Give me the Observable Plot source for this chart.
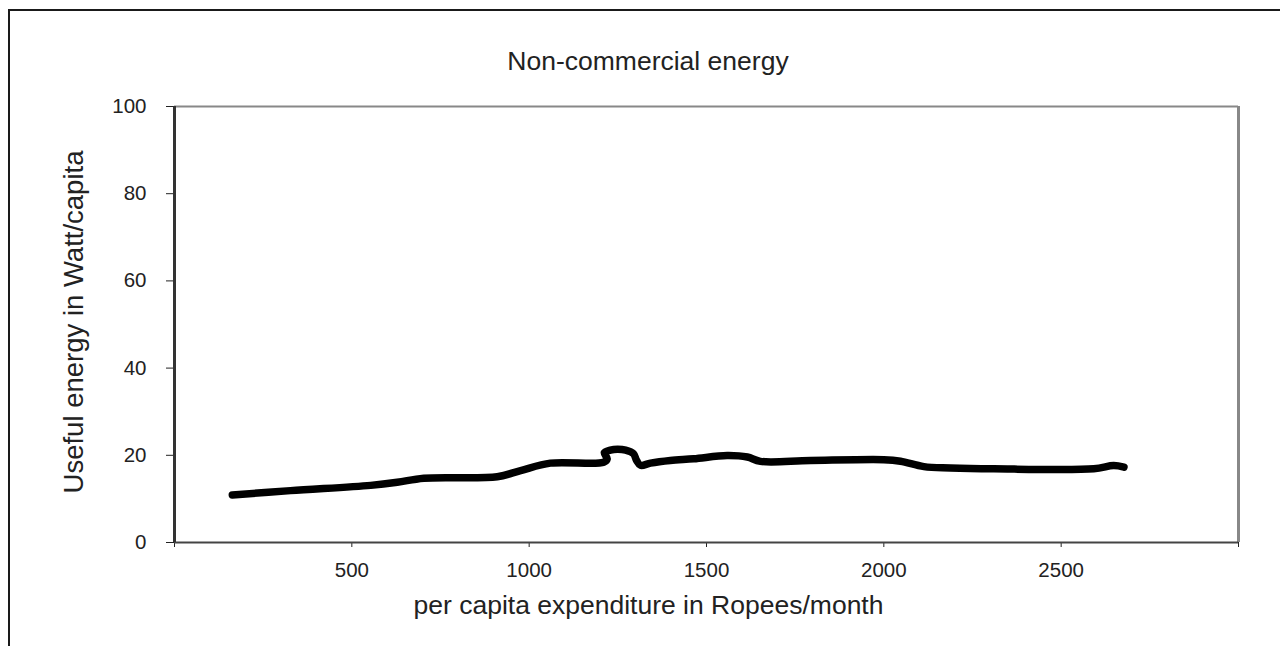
<!DOCTYPE html>
<html>
<head>
<meta charset="utf-8">
<script src="https://cdn.jsdelivr.net/npm/d3@7"></script>
<script src="https://cdn.jsdelivr.net/npm/@observablehq/plot@0.6"></script>
<style>
html, body { margin: 0; padding: 0; background: #fff; }
#wrap { position: relative; width: 1280px; height: 646px; overflow: hidden; font-family: "Liberation Sans", Arial, sans-serif; color: #222; background: #fff; }
#frame { position: absolute; left: 8px; top: 9px; width: 1400px; height: 800px; border: 2px solid #1a1a1a; box-sizing: border-box; }
#title { position: absolute; left: 0; top: 47.6px; width: 1296px; text-align: center; font-size: 26.5px; line-height: 1; margin: 0; font-weight: normal; }
#chart { position: absolute; left: 0; top: 80px; }
</style>
</head>
<body>
<div id="wrap">
  <div id="frame"></div>
  <h1 id="title">Non-commercial energy</h1>
  <div id="chart"></div>
</div>
<script>
// Data
const expenditure = [163, 327, 553, 628, 703, 910, 976, 1060, 1210, 1220, 1212, 1229, 1249, 1272, 1294, 1303, 1314, 1342, 1398, 1464, 1558, 1615, 1652, 1793, 2000, 2047, 2113, 2188, 2310, 2592, 2648, 2677];
const usefulEnergy = [10.9, 11.9, 13.1, 13.8, 14.75, 15.1, 16.5, 18.2, 18.4, 19.2, 20.6, 21.2, 21.4, 21.2, 20.4, 18.8, 17.7, 18.2, 18.8, 19.2, 19.95, 19.6, 18.6, 18.8, 19.0, 18.65, 17.4, 17.1, 16.9, 16.9, 17.65, 17.3];

const xTicks = [0, 500, 1000, 1500, 2000, 2500, 3000];
const xTickLabels = ["", "500", "1000", "1500", "2000", "2500", ""];
const yTicks = [0, 20, 40, 60, 80, 100];
const xDomain = [0, 3000];
const yDomain = [0, 100];

const titleText = "Non-commercial energy";
const xLabel = "per capita expenditure in Ropees/month";
const yLabel = "Useful energy in Watt/capita";

const data = expenditure.map((x, i) => ({x, y: usefulEnergy[i]}));

const chart = Plot.plot({
  width: 1280,
  height: 566,
  marginLeft: 174,
  marginRight: 42,
  marginTop: 26,
  marginBottom: 104,
  style: {fontFamily: "'Liberation Sans', Arial, sans-serif", fontSize: "20.5px", color: "#222", background: "transparent", overflow: "visible"},
  x: {domain: xDomain, ticks: xTicks, tickFormat: (d) => xTickLabels[xTicks.indexOf(d)], tickSize: 5, tickPadding: 15, label: null},
  y: {domain: yDomain, ticks: yTicks, tickSize: 8, tickPadding: 20, label: null},
  marks: [
    Plot.ruleY([yDomain[1]], {stroke: "#888", strokeWidth: 2}),
    Plot.ruleX([xDomain[1]], {stroke: "#888", strokeWidth: 3}),
    Plot.ruleY([yDomain[0]], {stroke: "#444", strokeWidth: 2}),
    Plot.ruleX([xDomain[0]], {stroke: "#333", strokeWidth: 3}),
    Plot.line(data, {x: "x", y: "y", stroke: "#000", strokeWidth: 7.5, curve: "catmull-rom", strokeLinejoin: "round", strokeLinecap: "round"}),
    Plot.text([xLabel], {frameAnchor: "bottom", textAnchor: "middle", dx: -58, dy: 71, fontSize: 26.5, fill: "#222"}),
    Plot.text([yLabel], {frameAnchor: "left", textAnchor: "middle", rotate: -90, dx: -100, dy: -2.5, fontSize: 27.5, fill: "#222"})
  ]
});
document.getElementById("chart").appendChild(chart);
</script>
</body>
</html>
